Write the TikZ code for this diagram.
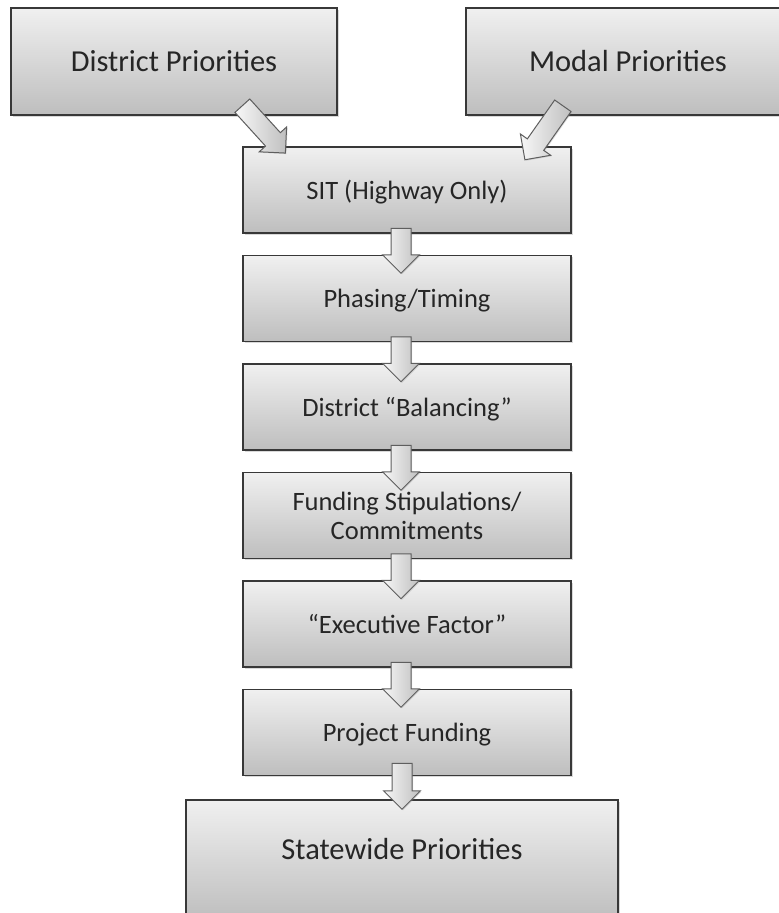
\documentclass[tikz,border=0pt]{standalone}
\usepackage{fontspec}
\setmainfont{Carlito}
\usetikzlibrary{positioning,shapes.arrows,shadows}

\definecolor{boxtop}{HTML}{F0F0F0}
\definecolor{boxbot}{HTML}{BEBEBE}
\definecolor{boxline}{HTML}{383838}
\definecolor{boxtext}{HTML}{262626}
\definecolor{arrline}{HTML}{5E5E5E}

\begin{document}
\begin{tikzpicture}[x=1pt,y=-1pt,
    stage/.style={draw=boxline, line width=1.3pt, top color=boxtop, bottom color=boxbot,
        minimum width=328pt, minimum height=86pt, inner sep=0pt, text=boxtext,
        font=\fontsize{26.5}{29}\selectfont, align=center,
        text height=18.3pt, text depth=0pt,
        drop shadow={shadow xshift=1.5pt, shadow yshift=-1.5pt, opacity=0.3}},
    prio/.style={stage, minimum width=326pt, minimum height=107pt,
        font=\fontsize{30.5}{34}\selectfont, text height=20.4pt},
    flow/.style={single arrow, sloped, allow upside down, draw=arrline, line width=1pt,
        left color=gray!6, right color=gray!50, inner xsep=0pt, inner ysep=9.5pt,
        minimum width=36pt, single arrow head extend=8.5pt,
        single arrow tip angle=90, minimum height=45pt,
        drop shadow={shadow xshift=1pt, shadow yshift=-1pt, opacity=0.25}}
]
    \useasboundingbox (0,0) rectangle (779,913);

    % Priorities feeding in
    \node[prio] (district) at (174,61.5) {District Priorities};
    \node[prio, minimum width=324pt] (modal) at (628,61.5) {Modal Priorities};

    % Stages
    \node[stage] (sit) at (407,190) {SIT (Highway Only)};
    \node[stage, below=21.2pt of sit] (phase) {Phasing/Timing};
    \node[stage, below=21.2pt of phase] (balance) {District \textquotedblleft Balancing\textquotedblright};
    \node[stage, below=21.2pt of balance, text height=, text depth=] (stip) {Funding Stipulations/\\Commitments};
    \node[stage, below=21.2pt of stip] (exec) {\textquotedblleft Executive Factor\textquotedblright};
    \node[stage, below=21.2pt of exec] (fund) {Project Funding};

    % Result
    \node[stage, minimum width=432pt, minimum height=120pt, text height=20pt, text depth=22pt,
        font=\fontsize{30.5}{34}\selectfont] (state) at (402,860) {Statewide Priorities};

    % Block arrows
    \path ([xshift=65pt,yshift=-40.5pt]district.center) -- node[flow, minimum height=64pt] {}
        ([xshift=-125pt,yshift=-3pt]sit.north);
    \path ([xshift=-62.5pt,yshift=-40.5pt]modal.center) -- node[flow, minimum height=66pt] {}
        ([xshift=121pt,yshift=-9pt]sit.north);
    \foreach \a/\b in {sit/phase,phase/balance,balance/stip,stip/exec,exec/fund} {
        \path ([xshift=-6pt,yshift=10pt]\a.south) -- node[flow] {}
            ([xshift=-6pt,yshift=-13pt]\b.north);
    }
    \path ([xshift=-5pt,yshift=13pt]fund.south) -- node[flow, minimum height=46pt] {}
        ([xshift=-5pt,yshift=0pt]fund.south |- state.north);
\end{tikzpicture}
\end{document}
